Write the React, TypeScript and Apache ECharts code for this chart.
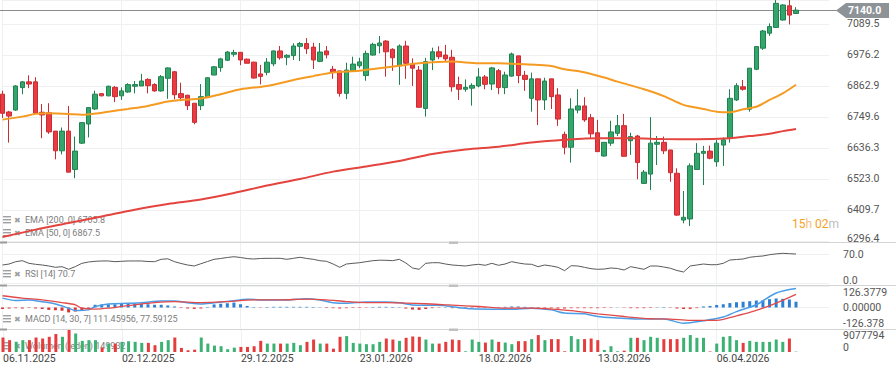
import React, { useEffect, useRef } from 'react';
import * as echarts from 'echarts';

// ---------- data ----------
const tickLabels = ['06.11.2025', '02.12.2025', '29.12.2025', '23.01.2026', '18.02.2026', '13.03.2026', '06.04.2026'];
const TICK_STEP = 18;
const SLOT_COUNT = 126;
const CURRENT_PRICE = 7140.0;

const opens = [
  6833, 6768, 6775, 6857, 6878, 6878, 6767, 6765, 6698, 6626,
  6698, 6558, 6654, 6724, 6779, 6835, 6827, 6858, 6827, 6841,
  6862, 6863, 6887, 6868, 6845, 6891, 6915, 6835, 6829, 6800,
  6791, 6822, 6903, 6930, 6957, 6979, 6986, 6961, 6950, 6907,
  6913, 6944, 6991, 6968, 6974, 7008, 7018, 7005, 6953, 6991,
  6924, 6918, 6836, 6918, 6937, 6901, 6976, 7010, 7027, 6997,
  6937, 7009, 6942, 6921, 6781, 6958, 6988, 6976, 6968, 6868,
  6851, 6855, 6863, 6896, 6870, 6919, 6857, 6899, 6973, 6902,
  6818, 6889, 6812, 6889, 6830, 6686, 6639, 6775, 6790, 6747,
  6692, 6607, 6654, 6690, 6718, 6663, 6680, 6507, 6541, 6650,
  6657, 6629, 6544, 6373, 6377, 6558, 6617, 6625, 6586, 6647,
  6672, 6812, 6860, 6778, 6924, 7001, 7056, 7077, 7104, 7156,
  7128,
];
const closes = [
  6763, 6753, 6863, 6878, 6870, 6763, 6757, 6695, 6626, 6698,
  6548, 6625, 6729, 6784, 6833, 6827, 6862, 6824, 6845, 6868,
  6868, 6881, 6864, 6845, 6897, 6929, 6831, 6820, 6791, 6730,
  6824, 6893, 6933, 6962, 6987, 6985, 6958, 6946, 6892, 6898,
  6950, 6991, 6966, 6975, 7009, 7018, 6999, 6958, 6987, 6977,
  6914, 6836, 6921, 6943, 6951, 6982, 7015, 7020, 6988, 6966,
  7009, 6946, 6928, 6785, 6952, 6988, 6970, 6962, 6860, 6851,
  6858, 6865, 6896, 6869, 6929, 6857, 6903, 6980, 6901, 6887,
  6889, 6812, 6881, 6824, 6742, 6639, 6779, 6790, 6739, 6688,
  6623, 6657, 6695, 6718, 6606, 6678, 6583, 6548, 6654, 6657,
  6626, 6546, 6391, 6383, 6571, 6617, 6624, 6599, 6654, 6666,
  6818, 6864, 6851, 6928, 7007, 7064, 7080, 7165, 7159, 7122,
  7140,
];
const lows = [
  6746, 6656, 6772, 6833, 6855, 6762, 6672, 6688, 6595, 6613,
  6548, 6526, 6651, 6675, 6775, 6825, 6825, 6804, 6812, 6838,
  6836, 6863, 6836, 6842, 6842, 6816, 6814, 6813, 6775, 6723,
  6775, 6822, 6903, 6915, 6954, 6970, 6939, 6946, 6890, 6869,
  6902, 6935, 6959, 6939, 6958, 6954, 6980, 6925, 6950, 6964,
  6889, 6824, 6815, 6915, 6928, 6882, 6974, 6982, 6897, 6918,
  6867, 6889, 6863, 6785, 6751, 6921, 6961, 6952, 6842, 6812,
  6842, 6791, 6858, 6851, 6848, 6833, 6833, 6897, 6873, 6845,
  6769, 6720, 6775, 6779, 6717, 6613, 6583, 6763, 6732, 6672,
  6623, 6605, 6644, 6680, 6606, 6611, 6522, 6505, 6483, 6574,
  6614, 6513, 6388, 6361, 6351, 6556, 6501, 6595, 6568, 6571,
  6656, 6808, 6846, 6769, 6921, 6995, 7046, 7075, 7102, 7088,
  7126,
];
const highs = [
  6846, 6772, 6866, 6881, 6902, 6895, 6797, 6800, 6698, 6711,
  6790, 6678, 6731, 6784, 6846, 6836, 6864, 6863, 6858, 6873,
  6881, 6907, 6891, 6873, 6903, 6931, 6918, 6875, 6831, 6800,
  6870, 6895, 6936, 6966, 6991, 6995, 6987, 6963, 6952, 6940,
  6965, 6993, 7009, 6979, 7019, 7024, 7038, 7021, 7020, 7009,
  6936, 6918, 6948, 6970, 6966, 6992, 7021, 7046, 7031, 7001,
  7015, 7028, 6964, 6936, 6966, 7003, 7008, 7013, 6995, 6897,
  6887, 6873, 6928, 6903, 6933, 6925, 6915, 6985, 6973, 6918,
  6912, 6889, 6893, 6889, 6855, 6696, 6818, 6851, 6822, 6761,
  6739, 6658, 6736, 6757, 6761, 6692, 6684, 6556, 6749, 6680,
  6678, 6629, 6562, 6479, 6580, 6654, 6644, 6645, 6666, 6675,
  6851, 6873, 6885, 6928, 7009, 7068, 7092, 7177, 7162, 7177,
  7151,
];

const ema200 = [
  [0, 6311], [5, 6338], [10, 6362], [15, 6386], [20, 6411], [25, 6432], [30, 6448], [35, 6472],
  [40, 6499], [45, 6523], [50, 6550], [55, 6569], [60, 6589], [65, 6614], [70, 6631], [75, 6641],
  [80, 6656], [85, 6666], [90, 6672], [95, 6672], [100, 6669], [105, 6668], [110, 6672], [113, 6680],
  [116, 6688], [118, 6698], [120, 6705.8],
];
const ema50 = [
  [0, 6740], [3, 6751], [5, 6761], [7, 6763], [10, 6761], [12, 6758], [14, 6762], [16, 6769],
  [19, 6779], [22, 6790], [25, 6806], [27, 6812], [30, 6817], [33, 6833], [36, 6851], [40, 6863],
  [44, 6885], [47, 6899], [50, 6912], [54, 6919], [57, 6928], [60, 6937], [63, 6946], [68, 6952],
  [72, 6946], [75, 6946], [78, 6943], [81, 6940], [83, 6936], [85, 6924], [87, 6918], [89, 6907],
  [91, 6894], [93, 6879], [97, 6851], [100, 6826], [103, 6794], [106, 6779], [108, 6769], [110, 6767],
  [112, 6778], [114, 6787], [116, 6812], [118, 6836], [120, 6867.5],
];

const rsi = [
  43.9, 46.3, 52, 54.4, 48, 45.6, 43.9, 41.5, 38.3, 39.8,
  33.4, 39.8, 48, 51.2, 52.9, 53.7, 53.7, 52, 52.9, 53.7,
  53.7, 53.7, 52.4, 52, 57.8, 59, 52, 47.6, 43.9, 41.5,
  47, 52.4, 57.8, 59.8, 62.2, 64.1, 62.2, 59.5, 58.5, 59.8,
  60.2, 60.2, 60.2, 57.8, 60.2, 62.7, 59.8, 57.8, 54.4, 52.9,
  46.3, 38.3, 46.3, 48, 49.5, 52, 54.4, 55.6, 55.4, 54.4,
  57.8, 48.8, 36.6, 33.4, 48, 49.5, 49.5, 46.3, 43.9, 42.7,
  41.5, 43.9, 45.6, 43.2, 48, 43.2, 46.3, 52, 48.8, 46.3,
  45.6, 39.8, 43.9, 41.5, 38.3, 30, 42.2, 41.5, 38.3, 34.9,
  33.4, 34.1, 36.6, 35.4, 31.7, 39.8, 36.6, 33.4, 41.5, 41.5,
  39, 35.9, 30.5, 26.8, 41.5, 43.9, 46.3, 44.6, 44.6, 48,
  56.1, 57.3, 58.5, 62.7, 64.6, 65.9, 69, 71, 72.4, 71.5,
  70.7,
];

const macdLine = [
  [0, 55], [2, 41], [4, 44], [6, 34], [8, 21], [10, -4], [11, -18], [13, -14], [14, 5], [16, 21],
  [19, 25], [21, 28], [24, 38], [26, 38], [28, 28], [30, 21], [32, 28], [35, 40], [37, 48], [40, 44],
  [43, 44], [46, 52], [48, 44], [50, 28], [52, 25], [55, 33], [58, 33], [60, 28], [62, 15], [65, 13],
  [67, 11], [68, 5], [71, -8], [74, -10], [77, -10], [80, -4], [83, -14], [85, -33], [88, -37], [90, -53],
  [93, -62], [96, -68], [100, -68], [103, -92], [106, -78], [109, -56], [111, -24], [114, 16], [117, 85],
  [120, 111.45956],
];
const macdSignal = [
  [0, 69], [3, 55], [6, 45], [9, 29], [11, 16], [12, -4], [14, -9], [16, -4], [18, 6], [20, 16],
  [23, 29], [26, 35], [30, 29], [34, 35], [38, 45], [42, 45], [46, 49], [49, 45], [52, 35], [55, 29],
  [58, 29], [61, 26], [64, 22], [67, 16], [68, 14], [72, 6], [76, -4], [80, -4], [83, -9], [86, -18],
  [90, -37], [94, -53], [98, -66], [101, -68], [104, -76], [108, -76], [111, -49], [113, -29], [115, -4],
  [117, 26], [120, 77.59125],
];
const macdHist = [
  -9, -6, -4, -6, -3, -6, -9, -14, -16, -19, -29, -24, -18, -9,
  16, 18, 19, 19, 24, 25, 24, 22, 19, 16, 16, 12, 6,
  -3, -6, -8, -6,
  3, 18, 22, 25, 29, 19, 9, 3,
  -2,
  3, 4, 4, 4, 4, 4, 4, 3, 2,
  -3, -4, -6, -4, -3, -3, -2,
  3, 4, 4, 3, 2,
  -6, -12, -14, -9, -4, -2,
  2,
  -4, -4, -3, -2, -2,
  2, 2, 3, 4, 6, 6, 4,
  -2, -3, -3, -4, -6, -6, -4, -4, -4, -4, -4, -3, -2,
  1,
  -2, -4, -4, -4, -3,
  2, 3,
  -2, -6, -9, -8, -4,
  6, 9, 15, 19, 26, 31, 34, 37, 41, 43, 49, 53, 51, 47, 33.87,
];

const volumes = [
  5982000, 4895000, 4183000, 4895000, 4895000, 5982000, 5564000, 6275000, 7404000, 6275000,
  9077794, 7655000, 4602000, 4895000, 4895000, 1799000, 3472000, 3472000, 4183000, 4476000,
  4183000, 3765000, 3765000, 2803000, 4183000, 4895000, 5982000, 1673000, 711000, 962000,
  5982000, 3472000, 2635000, 2384000, 1129000, 1799000, 2092000, 2092000, 2384000, 4602000,
  3472000, 3472000, 3472000, 3472000, 3765000, 2803000, 4183000, 5145000, 3472000, 3472000,
  1380000, 6275000, 6568000, 3765000, 3472000, 3221000, 3221000, 4183000, 5564000, 5145000,
  4602000, 5857000, 6400000, 6275000, 5145000, 3472000, 3472000, 4183000, 5145000, 4895000,
  293000, 5145000, 4183000, 3890000, 5145000, 4183000, 3890000, 3221000, 4476000, 4476000,
  5313000, 6986000, 4895000, 5313000, 5313000, 293000, 6568000, 5313000, 5313000, 5564000,
  4895000, 837000, 2384000, 293000, 544000, 5857000, 5857000, 4895000, 6275000, 5857000,
  5313000, 5313000, 5313000, 5857000, 6986000, 5857000, 5857000, 209000, 3472000, 6275000,
  6568000, 4895000, 3765000, 4602000, 4183000, 4183000, 4183000, 5145000, 4183000, 5564000,
  149932,
];

const PRICE_MIN = 6296.4;
const PRICE_STEP = 113.3;
const PRICE_TOP = 7177.2;
const RSI_LEVEL = 70;
const MACD_RANGE = 126.3779;
const VOL_MAX = 9077794;

// ---------- component ----------
export default function App() {
  const ref = useRef<HTMLDivElement>(null);

  useEffect(() => {
    document.body.style.margin = '0';
    const el = ref.current as HTMLDivElement;
    const chart = echarts.init(el, null, { renderer: 'svg' });

    const step = 6.6125;
    const left = 2.5;
    const width = (SLOT_COUNT - 1) * step;
    const axisRight = left + width;
    const font = 'Roboto, "Noto Sans", sans-serif';
    const gridColor = '#eff0f2';
    const labelColor = '#555';
    const labelSize = 10.5;

    const cats = Array.from({ length: SLOT_COUNT }, (_, i) =>
      i % TICK_STEP === 0 && tickLabels[i / TICK_STEP] ? tickLabels[i / TICK_STEP] : 'c' + i
    );

    const candle = opens.map((o, i) => [o, closes[i], lows[i], highs[i]]);
    const isUp = (i: number) => closes[i] >= opens[i];
    const volData = volumes.map((v, i) => ({ value: v, itemStyle: { color: isUp(i) ? '#3bb273' : '#e53d3d' } }));
    const histData = macdHist.map((v) => ({ value: v, itemStyle: { color: v >= 0 ? '#2c7fd1' : '#d93333' } }));

    const xAxis = (gridIndex: number, labels: boolean) => ({
      type: 'category',
      gridIndex,
      data: cats,
      boundaryGap: false,
      axisLine: { show: false },
      axisTick: { show: false },
      axisLabel: labels
        ? {
            show: true,
            interval: TICK_STEP - 1,
            align: 'left',
            margin: 1,
            color: '#444',
            fontSize: labelSize,
            fontFamily: font,
            formatter: (v: string) => (tickLabels.includes(v) ? v : ''),
          }
        : { show: false },
      splitLine: { show: true, interval: TICK_STEP - 1, lineStyle: { color: gridColor, width: 1 } },
    });

    const yBase = (gridIndex: number, extra: any) => ({
      type: 'value',
      gridIndex,
      position: 'right',
      axisLine: { show: false },
      axisTick: { show: false },
      splitLine: { show: true, lineStyle: { color: gridColor, width: 1 } },
      ...extra,
    });

    const labelStyle = (margin: number) => ({ margin, color: labelColor, fontSize: labelSize, fontFamily: font, align: 'left' });

    chart.setOption({
      animation: false,
      backgroundColor: '#ffffff',
      grid: [
        { left, width, top: 0, height: 241 },
        { left, width, top: 242, height: 41 },
        { left, width, top: 286, height: 43 },
        { left, width, top: 330, height: 22 },
      ],
      xAxis: [xAxis(0, false), xAxis(1, false), xAxis(2, false), xAxis(3, true)],
      yAxis: [
        yBase(0, {
          min: PRICE_MIN,
          max: PRICE_TOP,
          interval: PRICE_STEP,
          axisLabel: {
            ...labelStyle(18),
            formatter: (v: number) => (v > CURRENT_PRICE - 30 || Math.abs(v - PRICE_MIN) < 0.01 ? '' : v.toFixed(1)),
          },
        }),
        yBase(1, {
          min: 0,
          max: 100,
          interval: RSI_LEVEL,
          axisLabel: {
            ...labelStyle(14),
            formatter: (v: number) => (v === RSI_LEVEL ? v.toFixed(1) : ''),
          },
        }),
        yBase(2, {
          min: -MACD_RANGE,
          max: MACD_RANGE,
          interval: MACD_RANGE,
          axisLabel: {
            ...labelStyle(14),
            formatter: (v: number) => (Math.abs(v) < 1 ? (0).toFixed(5) : ''),
          },
        }),
        yBase(3, {
          min: 0,
          max: VOL_MAX,
          interval: VOL_MAX,
          splitLine: { show: false },
          axisLabel: { show: false },
        }),
      ],
      series: [
        {
          type: 'candlestick',
          xAxisIndex: 0,
          yAxisIndex: 0,
          data: candle,
          barWidth: 5,
          clip: false,
          itemStyle: {
            color: '#35a66b',
            color0: '#ea3a42',
            borderColor: '#1f8050',
            borderColor0: '#c92c33',
            borderWidth: 1,
          },
          z: 2,
        },
        {
          type: 'line',
          xAxisIndex: 0,
          yAxisIndex: 0,
          data: ema200,
          symbol: 'none',
          smooth: 0.3,
          lineStyle: { color: '#e4443e', width: 2 },
          z: 3,
        },
        {
          type: 'line',
          xAxisIndex: 0,
          yAxisIndex: 0,
          data: ema50,
          symbol: 'none',
          smooth: 0.3,
          lineStyle: { color: '#f59b22', width: 2 },
          z: 3,
        },
        {
          type: 'line',
          xAxisIndex: 1,
          yAxisIndex: 1,
          data: rsi,
          symbol: 'none',
          lineStyle: { color: '#5a5a5a', width: 1 },
        },
        {
          type: 'bar',
          xAxisIndex: 2,
          yAxisIndex: 2,
          data: histData,
          barWidth: 3,
        },
        {
          type: 'line',
          xAxisIndex: 2,
          yAxisIndex: 2,
          data: macdLine,
          symbol: 'none',
          smooth: 0.3,
          lineStyle: { color: '#4a9de6', width: 1.5 },
          z: 3,
        },
        {
          type: 'line',
          xAxisIndex: 2,
          yAxisIndex: 2,
          data: macdSignal,
          symbol: 'none',
          smooth: 0.3,
          lineStyle: { color: '#e24a4a', width: 1.3 },
          z: 3,
        },
        {
          type: 'bar',
          xAxisIndex: 3,
          yAxisIndex: 3,
          data: volData,
          barWidth: 3,
        },
      ],
    });

    const yPix = (axis: number, v: number) =>
      chart.convertToPixel({ yAxisIndex: axis } as any, v) as unknown as number;
    const py = Math.round(yPix(0, CURRENT_PRICE)) + 0.5;

    const axisText = (x: number, y: number, text: string) => ({
      type: 'text',
      x,
      y,
      style: { text, fill: labelColor, fontSize: labelSize, fontFamily: font, verticalAlign: 'middle', align: 'left' },
      z: 5,
    });

    const legendRow = (y: number, label: string) => [
      { type: 'rect', shape: { x: 3, y: y - 4, width: 8, height: 1.4 }, style: { fill: '#a0a0a0' }, z: 0 },
      { type: 'rect', shape: { x: 3, y: y - 1, width: 8, height: 1.4 }, style: { fill: '#a0a0a0' }, z: 0 },
      { type: 'rect', shape: { x: 3, y: y + 2, width: 8, height: 1.4 }, style: { fill: '#a0a0a0' }, z: 0 },
      {
        type: 'text',
        x: 14,
        y,
        style: { text: '✖', fontSize: 8, fill: '#a0a0a0', verticalAlign: 'middle', fontFamily: '"DejaVu Sans"' },
        z: 0,
      },
      {
        type: 'text',
        x: 25,
        y,
        style: { text: label, fontSize: 9, fill: '#7d7d7d', fontFamily: font, verticalAlign: 'middle' },
        z: 0,
      },
    ];

    const last = (arr: number[][]) => arr[arr.length - 1][1];
    const sepColor = '#d4d4d4';
    const seps = [242.5, 285.5, 329.5];
    const subX = axisRight + 14;

    chart.setOption({
      graphic: [
        ...seps.map((y) => ({
          type: 'line',
          shape: { x1: 0, y1: y, x2: 896, y2: y },
          style: { stroke: sepColor, lineWidth: 1 },
          z: 0,
        })),
        ...seps.map((y) => ({ type: 'rect', shape: { x: 0, y: y - 1, width: 7, height: 2 }, style: { fill: '#9c9c9c' }, z: 1 })),
        ...seps.map((y) => ({ type: 'rect', shape: { x: 449, y: y - 1, width: 9, height: 2.5 }, style: { fill: '#c0c0c0' }, z: 1 })),
        // edge labels of the axes, nudged inside their panels
        axisText(axisRight + 18, yPix(0, PRICE_MIN) - 3, PRICE_MIN.toFixed(1)),
        axisText(subX, yPix(1, 0) - 3, (0).toFixed(1)),
        axisText(subX, yPix(2, MACD_RANGE) + 6.5, MACD_RANGE.toFixed(4)),
        axisText(subX, yPix(2, -MACD_RANGE) - 5.5, (-MACD_RANGE).toFixed(3)),
        axisText(subX, yPix(3, VOL_MAX) + 5.5, String(VOL_MAX)),
        axisText(subX, yPix(3, 0) - 4.5, '0'),
        ...legendRow(220, 'EMA [200, 0] ' + last(ema200).toFixed(1)),
        ...legendRow(233, 'EMA [50, 0] ' + last(ema50).toFixed(1)),
        ...legendRow(274, 'RSI [14] ' + rsi[rsi.length - 1].toFixed(1)),
        ...legendRow(319, 'MACD [14, 30, 7] ' + last(macdLine).toFixed(5) + ', ' + last(macdSignal).toFixed(5)),
        ...legendRow(346, 'Wolumen (jeden) ' + String(volumes[volumes.length - 1])),
        {
          type: 'text',
          x: 792,
          y: 224,
          style: {
            text: '{o|15}{l|h} {o|02}{g|m}',
            fontSize: 12,
            fontFamily: font,
            verticalAlign: 'middle',
            rich: {
              o: { fill: '#f5a225', fontSize: 12, fontFamily: font },
              l: { fill: '#f3c07e', fontSize: 12, fontFamily: font },
              g: { fill: '#bdbdbd', fontSize: 12, fontFamily: font },
            },
          },
          z: 5,
        },
        {
          type: 'line',
          shape: { x1: 0, y1: py, x2: 837, y2: py },
          style: { stroke: '#8b8b8b', lineWidth: 1 },
          z: 1,
        },
        {
          type: 'polygon',
          shape: { points: [[836, py], [846, py - 7.5], [846, py + 7.5]] },
          style: { fill: '#8e9398' },
          z: 100,
        },
        {
          type: 'rect',
          shape: { x: 846, y: py - 7.5, width: 43, height: 15 },
          style: { fill: '#8e9398' },
          z: 100,
        },
        {
          type: 'text',
          x: 848,
          y: py,
          style: {
            text: CURRENT_PRICE.toFixed(1),
            fill: '#ffffff',
            fontSize: labelSize,
            fontWeight: 'bold',
            fontFamily: font,
            verticalAlign: 'middle',
          },
          z: 101,
        },
      ],
    });

    return () => {
      chart.dispose();
    };
  }, []);

  return <div ref={ref} style={{ position: 'absolute', left: 0, top: 0, width: 896, height: 375 }} />;
}
